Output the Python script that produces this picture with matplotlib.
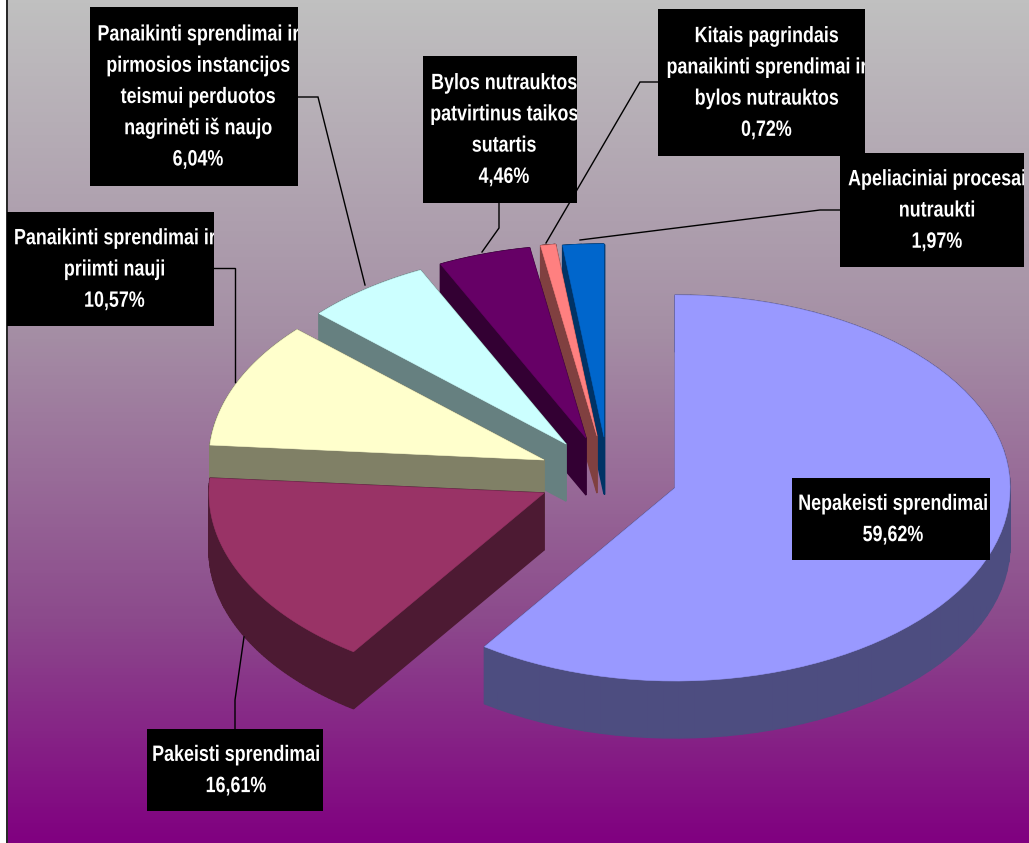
#!/bin/python
import numpy as np
import matplotlib
matplotlib.use('Agg')
import matplotlib.pyplot as plt
import matplotlib.patheffects as pe
from matplotlib.colors import LinearSegmentedColormap
from matplotlib.patches import Rectangle, Polygon
from matplotlib.transforms import Affine2D

plt.rcParams['font.family'] = ['Liberation Sans', 'DejaVu Sans']

# slices, clockwise from 12 o'clock
names = ['Nepakeisti sprendimai',
         'Pakeisti sprendimai',
         'Panaikinti sprendimai ir\npriimti nauji',
         'Panaikinti sprendimai ir\npirmosios instancijos\nteismui perduotos\nnagrinėti iš naujo',
         'Bylos nutrauktos\npatvirtinus taikos\nsutartis',
         'Kitais pagrindais\npanaikinti sprendimai ir\nbylos nutrauktos',
         'Apeliaciniai procesai\nnutraukti']
values = [59.62, 16.61, 10.57, 6.04, 4.46, 0.72, 1.97]

top_colors = ['#9999FF', '#993366', '#FFFFCC', '#CCFFFF', '#660066', '#FF8080', '#0066CC']
side_colors = ['#4D4D80', '#4D1A33', '#808066', '#668080', '#330033', '#804040', '#003366']

# exploded slice centres in pixels
centers = [(675, 488), (544, 493), (544, 460), (566, 444), (586, 438), (597, 436), (604, 437)]
rx, ry, depth = 335, 193, 57

# label boxes: x0, y0, x1, y1
boxes = [(792, 478, 990, 560), (147, 729, 323, 811), (7, 212, 214, 326), (90, 7, 298, 186),
         (423, 56, 577, 203), (658, 9, 865, 156), (840, 153, 1024, 267)]
text_dx = [2, 1, 4, 4, 4, 5, 5]
leaders = [None,
           [(235, 729), (235, 700), (244, 637)],
           [(214, 268), (235, 268), (235, 382)],
           [(298, 97), (318, 97), (365, 285)],
           [(499, 203), (499, 228), (482, 252)],
           [(658, 82), (640, 82), (546, 243)],
           [(840, 210), (820, 210), (580, 240)]]

grad_stops = [(0.0, '#C0C0C0'), (0.39, '#A58FA5'), (0.735, '#8C4A8C'), (1.0, '#800080')]


class Narrow(pe.AbstractPathEffect):
    # squeeze each text line around its own middle, no narrow font here
    def __init__(self, sx):
        super().__init__()
        self.sx = sx

    def draw_path(self, renderer, gc, tpath, affine, rgbFace=None):
        xc = (tpath.vertices[:, 0].min() + tpath.vertices[:, 0].max()) / 2
        squeeze = Affine2D().translate(-xc, 0).scale(self.sx, 1).translate(xc, 0)
        renderer.draw_path(gc, tpath, squeeze + affine, rgbFace)


fig = plt.figure(figsize=(10.29, 8.43), dpi=100)
ax = fig.add_axes([0, 0, 1, 1])

cmap = LinearSegmentedColormap.from_list('bg', grad_stops)
ax.imshow(np.linspace(0, 1, 256).reshape(-1, 1), cmap=cmap, aspect='auto',
          extent=(8, 1029, 843, 0), zorder=0)
ax.set_xlim(0, 1029)
ax.set_ylim(843, 0)
ax.axis('off')
ax.plot([7, 7], [0, 843], color='k', lw=1.2, zorder=1)

angles = np.cumsum([0] + values) / sum(values) * 2 * np.pi

# back slices first, the big one does not touch the others
order = [6, 5, 4, 3, 2, 1, 0]
z = 2
for i in order:
    cx, cy = centers[i]
    t = np.linspace(angles[i], angles[i + 1], 80)
    xs = np.r_[cx, cx + rx * np.sin(t)]
    ys = np.r_[cy, cy - ry * np.cos(t)]
    n = len(xs)
    for k in range(n):
        j = (k + 1) % n
        quad = [(xs[k], ys[k]), (xs[j], ys[j]), (xs[j], ys[j] + depth), (xs[k], ys[k] + depth)]
        ax.add_patch(Polygon(quad, closed=True, fc=side_colors[i], ec=side_colors[i], lw=1, zorder=z))
    ax.add_patch(Polygon(np.c_[xs, ys], closed=True, fc=top_colors[i], ec=top_colors[i], lw=0.4, zorder=z + 0.5))
    z += 1

for i in range(len(values)):
    if leaders[i] is not None:
        lx, ly = zip(*leaders[i])
        ax.plot(lx, ly, color='k', lw=1, zorder=20, solid_joinstyle='miter')

for i in range(len(values)):
    x0, y0, x1, y1 = boxes[i]
    box = Rectangle((x0, y0), x1 - x0, y1 - y0, fc='k', ec='none', zorder=30)
    ax.add_patch(box)
    label = names[i] + '\n' + f'{values[i]:.2f}'.replace('.', ',') + '%'
    txt = ax.text((x0 + x1) / 2 + text_dx[i], (y0 + y1) / 2 + 1, label, color='white', fontsize=16,
                  fontweight='bold', ha='center', va='center', linespacing=1.64, zorder=31,
                  path_effects=[Narrow(0.805)])
    txt.set_clip_path(box)
    txt.set_clip_on(True)

fig.savefig('out.png', dpi=100, facecolor='white')
